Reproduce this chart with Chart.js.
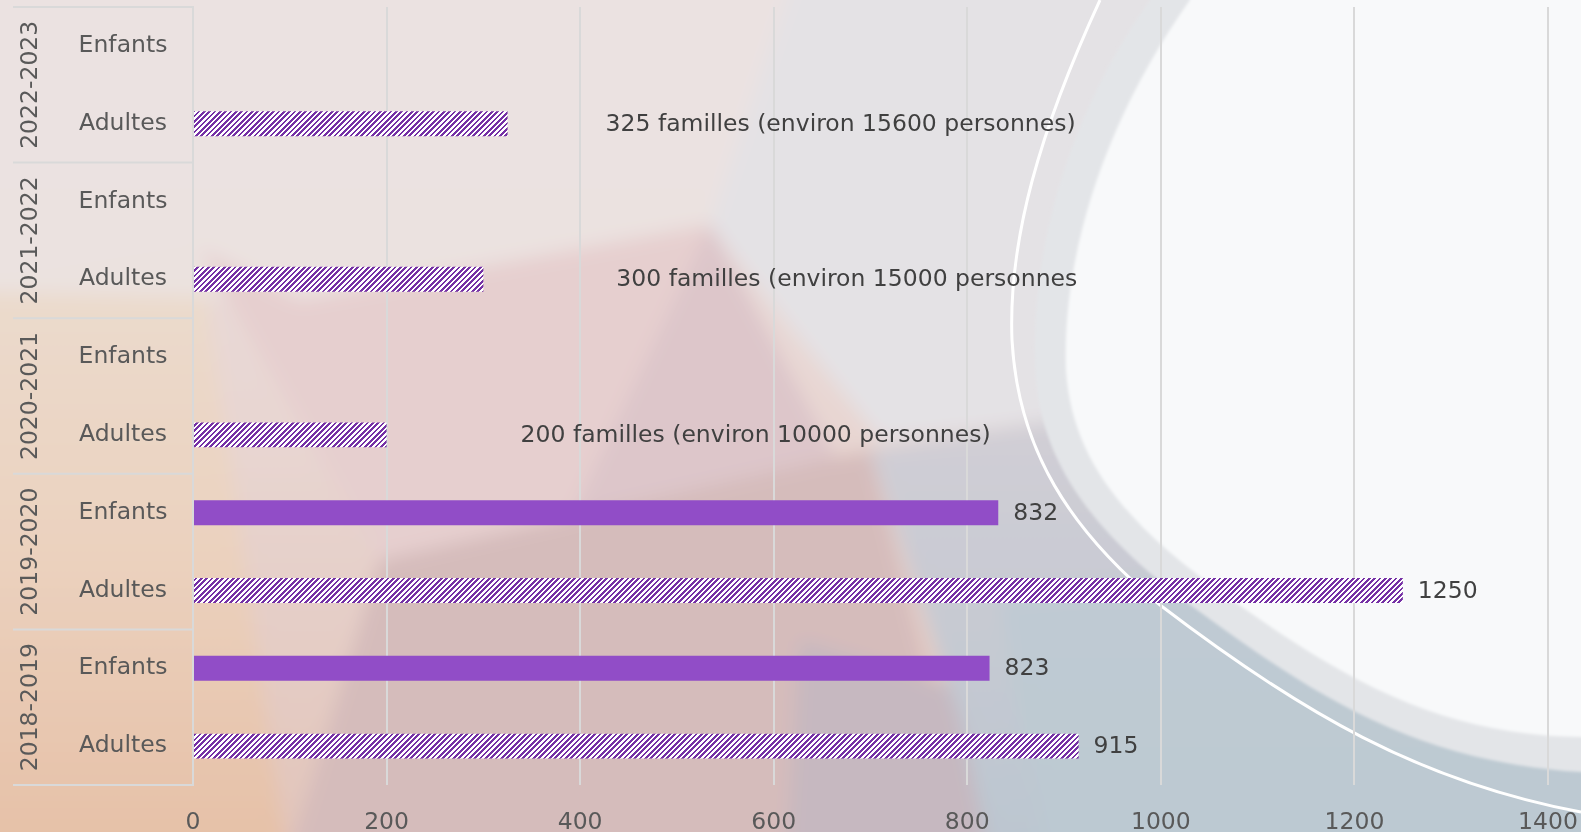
<!DOCTYPE html>
<html lang="fr">
<head>
<meta charset="utf-8">
<title>Bénéficiaires par année</title>
<script src="https://cdn.jsdelivr.net/npm/chart.js@4.4.1/dist/chart.umd.min.js"></script>
<style>
  html, body { margin: 0; padding: 0; overflow: hidden; }
  body { width: 1581px; height: 832px; position: relative; font-family: "DejaVu Sans", sans-serif; }
  #fond { position: absolute; left: 0; top: 0; }
  #graphique { position: absolute; left: 0; top: 0; }
</style>
</head>
<body>
<svg id="fond" width="1581" height="832" viewBox="0 0 1581 832">
  <defs>
    <filter id="flou" filterUnits="userSpaceOnUse" x="-200" y="-200" width="2000" height="1250">
      <feGaussianBlur stdDeviation="9"/>
    </filter>
    <filter id="flouLeger" filterUnits="userSpaceOnUse" x="-200" y="-200" width="2000" height="1250">
      <feGaussianBlur stdDeviation="1.5"/>
    </filter>
    <linearGradient id="base" x1="0" y1="0" x2="0" y2="1">
      <stop offset="0" stop-color="#e9e1e1"/>
      <stop offset="0.5" stop-color="#e8d6d2"/>
      <stop offset="1" stop-color="#e0c0b4"/>
    </linearGradient>
    <linearGradient id="chaud" gradientUnits="userSpaceOnUse" x1="0" y1="250" x2="0" y2="832">
      <stop offset="0" stop-color="#ebdccf"/>
      <stop offset="0.5" stop-color="#ebd2bf"/>
      <stop offset="1" stop-color="#e6c1a8"/>
    </linearGradient>
    <linearGradient id="froid" gradientUnits="userSpaceOnUse" x1="0" y1="420" x2="0" y2="832">
      <stop offset="0" stop-color="#d1ced5"/>
      <stop offset="1" stop-color="#bcc6d0"/>
    </linearGradient>
  </defs>
  <g filter="url(#flou)">
    <rect x="-100" y="-100" width="1800" height="1050" fill="url(#base)"/>
    <polygon points="-100,300 200,250 300,950 -100,950" fill="url(#chaud)"/>
    <polygon points="-100,-100 900,-100 710,225 300,300 -100,290" fill="#ebe3e2" opacity="0.85"/>
    <polygon points="300,300 710,225 560,540 380,560 200,250" fill="#e6cfcf"/>
    <polygon points="710,225 560,540 870,520" fill="#ddc6ca"/>
    <polygon points="380,560 870,450 1000,950 260,950" fill="#d5bcbb"/>
    <polygon points="800,640 1000,700 1010,950 780,950" fill="#c6b8c0"/>
    <polygon points="820,-100 1700,-100 1700,380 1060,420 880,440 710,225" fill="#e4e2e5"/>
    <polygon points="870,450 1060,420 1700,360 1700,950 1010,950 960,720" fill="url(#froid)"/>
    <polygon points="1000,600 1700,500 1700,950 1060,950" fill="#bccad3" opacity="0.7"/>
  </g>
  <g filter="url(#flouLeger)">
    <path d="M1150,0 C1065,120 1028,260 1036,380 C1044,470 1100,540 1200,612 C1320,700 1420,762 1581,772 L1700,772 L1700,-50 L1150,-50 Z" fill="#e3e5e8"/>
    <path d="M1190,0 C1105,120 1062,255 1066,370 C1072,460 1125,525 1232,600 C1345,680 1440,735 1581,737 L1700,737 L1700,-50 L1190,-50 Z" fill="#f8f9fa"/>
  </g>
  <path d="M1100,0 C1040,130 1008,240 1012,340 C1018,450 1070,530 1160,605 C1300,712 1420,782 1581,812" fill="none" stroke="#ffffff" stroke-width="3"/>
</svg>
<canvas id="graphique" width="1581" height="832"></canvas>
<script>
// données
const annees = ["2022-2023", "2021-2022", "2020-2021", "2019-2020", "2018-2019"];
const groupes = ["Enfants", "Adultes"];
const valeursEnfants = [null, null, null, 832, 823];
const valeursAdultes = [325, 300, 200, 1250, 915];
const etiquettesEnfants = ["", "", "", "832", "823"];
const etiquettesAdultes = [
  "325 familles (environ 15600 personnes)",
  "300 familles (environ 15000 personnes",
  "200 familles (environ 10000 personnes)",
  "1250",
  "915"
];
const graduations = [0, 200, 400, 600, 800, 1000, 1200, 1400];

// décalage (px) des étiquettes après la fin des barres
const decalagesAdultes = [98, 133, 134, 15, 15];
const decalageEnfants = 15;

const police = '23.5px "DejaVu Sans"';
const violet = "#914dc7";
const violetHachure = "#7530a5";

// motif hachuré (rayures montantes, période ~5,3 px)
function creerHachure() {
  const n = 16, periode = 16 / 3;
  const tuile = document.createElement("canvas");
  tuile.width = n;
  tuile.height = n;
  const c = tuile.getContext("2d");
  c.fillStyle = "#ffffff";
  c.fillRect(0, 0, n, n);
  c.fillStyle = violetHachure;
  for (let x = 0; x < n; x++) {
    for (let y = 0; y < n; y++) {
      if ((x + y + 1) % periode < periode / 2) c.fillRect(x, y, 1, 1);
    }
  }
  return c.createPattern(tuile, "repeat");
}

// liste à plat : pour chaque année, Enfants puis Adultes
const categories = [];
const valeurs = [];
const etiquettes = [];
const decalages = [];
const sousLabels = [];
annees.forEach(function (annee, i) {
  categories.push(annee + " Enfants");
  valeurs.push(valeursEnfants[i]);
  etiquettes.push(etiquettesEnfants[i]);
  decalages.push(decalageEnfants);
  sousLabels.push(groupes[0]);
  categories.push(annee + " Adultes");
  valeurs.push(valeursAdultes[i]);
  etiquettes.push(etiquettesAdultes[i]);
  decalages.push(decalagesAdultes[i]);
  sousLabels.push(groupes[1]);
});

// axe à deux niveaux dessiné à la main
const axeGroupes = {
  id: "axeGroupes",
  afterDraw(chart) {
    const ctx = chart.ctx;
    const y = chart.scales.y;
    const zone = chart.chartArea;
    ctx.save();
    ctx.font = police;
    ctx.fillStyle = "#595959";
    ctx.textAlign = "center";
    ctx.textBaseline = "middle";
    sousLabels.forEach(function (txt, i) {
      ctx.fillText(txt, 123, y.getPixelForValue(i));
    });
    // séparateurs
    ctx.strokeStyle = "#d9d9d9";
    ctx.lineWidth = 2;
    const pas = y.getPixelForValue(1) - y.getPixelForValue(0);
    for (let k = 0; k <= annees.length; k++) {
      const py = k < annees.length ? y.getPixelForValue(k * 2) - pas / 2 : zone.bottom;
      ctx.beginPath();
      ctx.moveTo(13, py);
      ctx.lineTo(zone.left, py);
      ctx.stroke();
    }
    // années en vertical
    annees.forEach(function (annee, k) {
      const py = (y.getPixelForValue(k * 2) + y.getPixelForValue(k * 2 + 1)) / 2;
      ctx.save();
      ctx.translate(31, py);
      ctx.rotate(-Math.PI / 2);
      ctx.fillText(annee, 0, 0);
      ctx.restore();
    });
    ctx.restore();
  }
};

// étiquettes de données
const etiquettesBarres = {
  id: "etiquettesBarres",
  afterDatasetsDraw(chart) {
    const ctx = chart.ctx;
    const meta = chart.getDatasetMeta(0);
    ctx.save();
    ctx.font = police;
    ctx.fillStyle = "#404040";
    ctx.textAlign = "left";
    ctx.textBaseline = "middle";
    meta.data.forEach(function (barre, i) {
      if (!etiquettes[i] || valeurs[i] === null) return;
      ctx.fillText(etiquettes[i], barre.x + decalages[i], barre.y + 1);
    });
    ctx.restore();
  }
};

const hachure = creerHachure();
const ctx = document.getElementById("graphique").getContext("2d");

new Chart(ctx, {
  type: "bar",
  data: {
    labels: categories,
    datasets: [{
      data: valeurs,
      backgroundColor: function (c) {
        return c.dataIndex % 2 === 1 ? hachure : violet;
      },
      barPercentage: 0.32,
      categoryPercentage: 1
    }]
  },
  options: {
    indexAxis: "y",
    responsive: false,
    animation: false,
    layout: { padding: { top: 7, right: 33, left: 0, bottom: 0 } },
    plugins: {
      legend: { display: false },
      tooltip: { enabled: false }
    },
    scales: {
      x: {
        min: graduations[0],
        max: graduations[graduations.length - 1],
        afterBuildTicks: function (s) {
          s.ticks = graduations.map(function (v) { return { value: v }; });
        },
        ticks: {
          font: { family: "DejaVu Sans", size: 23.5 },
          color: "#595959",
          padding: 24,
          maxRotation: 0,
          callback: function (v) { return String(v); }
        },
        grid: { color: "#d9d9d9", lineWidth: 2, drawTicks: false },
        border: { display: false },
        afterFit: function (s) {
          s.height = 47;
          s.paddingLeft = 0;
          s.paddingRight = 0;
        }
      },
      y: {
        ticks: { display: false },
        grid: { display: false },
        border: { color: "#d9d9d9", width: 2 },
        afterFit: function (s) { s.width = 193; }
      }
    }
  },
  plugins: [axeGroupes, etiquettesBarres]
});
</script>
</body>
</html>
